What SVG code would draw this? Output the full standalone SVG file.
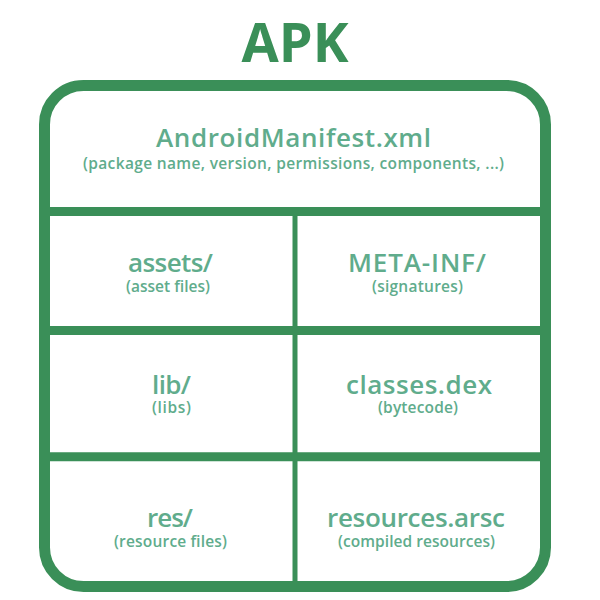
<svg xmlns="http://www.w3.org/2000/svg" width="600" height="600" viewBox="0 0 600 600">
<style>
.frame{fill:none;stroke:#3a8f58;stroke-width:11}
.div{stroke:#3a8f58;stroke-width:9}
.vdiv{stroke:#3a8f58;stroke-width:5}
.title{font-family:"Open Sans","DejaVu Sans",sans-serif;font-weight:700;font-size:54px;fill:#3a8f58;text-anchor:middle}
.main{font-family:"Open Sans","DejaVu Sans",sans-serif;font-weight:600;font-size:26px;fill:#60ac8c;text-anchor:middle}
.sub{font-family:"Open Sans","DejaVu Sans",sans-serif;font-weight:600;font-size:15.5px;fill:#60ac8c;text-anchor:middle}
</style>
<rect width="600" height="600" fill="#ffffff"/>
<text class="title" x="295" y="62">APK</text>
<g id="connectors">
<rect class="frame" x="44.5" y="85.5" width="501" height="501" rx="39"/>
<line class="div" x1="50" y1="211.5" x2="540" y2="211.5"/>
<line class="div" x1="50" y1="330.5" x2="540" y2="330.5"/>
<line class="div" x1="50" y1="456.7" x2="540" y2="456.7"/>
<line class="vdiv" x1="295" y1="216" x2="295" y2="581"/>
</g>
<g id="manifest">
<text class="main" x="293.5" y="146.7" textLength="275">AndroidManifest.xml</text>
<text class="sub" x="293.5" y="169" textLength="421">(package name, version, permissions, components, ...)</text>
</g>
<g id="assets">
<text class="main" x="170.5" y="271.7" textLength="85">assets/</text>
<text class="sub" x="168" y="291.5" textLength="84">(asset files)</text>
</g>
<g id="metainf">
<text class="main" x="417" y="271.7" textLength="138">META-INF/</text>
<text class="sub" x="417.5" y="291.5" textLength="91">(signatures)</text>
</g>
<g id="lib">
<text class="main" x="171.5" y="394.3" textLength="39">lib/</text>
<text class="sub" x="171.5" y="413" textLength="39">(libs)</text>
</g>
<g id="classes">
<text class="main" x="419" y="394.3" textLength="146">classes.dex</text>
<text class="sub" x="418" y="413" textLength="80">(bytecode)</text>
</g>
<g id="res">
<text class="main" x="170" y="527" textLength="46">res/</text>
<text class="sub" x="170.5" y="547" textLength="113">(resource files)</text>
</g>
<g id="resources">
<text class="main" x="416" y="527" textLength="178">resources.arsc</text>
<text class="sub" x="416.5" y="547" textLength="157">(compiled resources)</text>
</g>
</svg>
